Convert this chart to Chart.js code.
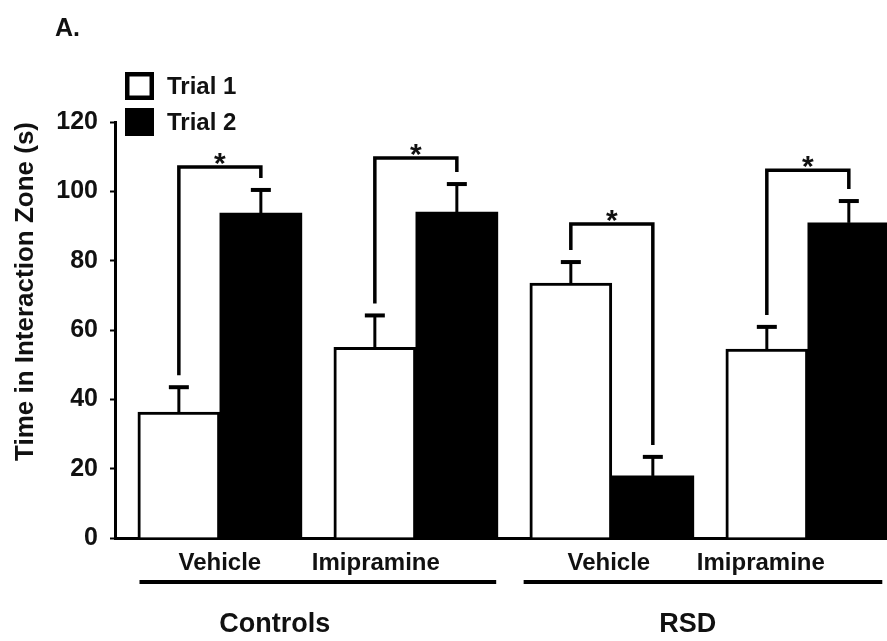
<!DOCTYPE html>
<html>
<head>
<meta charset="utf-8">
<script src="https://cdn.jsdelivr.net/npm/chart.js@4.4.1/dist/chart.umd.min.js"></script>
<style>
  html, body { margin: 0; padding: 0; background: #fff; overflow: hidden; }
  canvas { display: block; }
</style>
</head>
<body>
<canvas id="chart" width="887" height="641"></canvas>
<script>
// data
const treatments = ['Vehicle', 'Imipramine', 'Vehicle', 'Imipramine'];
const conditions = ['Controls', 'RSD'];
const trial1 = [36.3, 55, 73.5, 54.5];
const trial2 = [93.7, 94, 17.9, 90.9];
const trial1Err = [7.2, 9.2, 6.1, 6.4];
const trial2Err = [6.7, 8.1, 5.5, 6.3];
const bracketTops = [107, 109.6, 90.6, 106.1];
const yTicks = [0, 20, 40, 60, 80, 100, 120];

const FONT = "'Liberation Sans', Arial, sans-serif";
const INK = '#111';

// where things sit, in x-scale units
const labelShift = [0, -40, -3, -47];          // px, treatment labels
const conditionSpans = [[-0.41, 1.41], [1.55, 3.38]];
const conditionLabelX = [0.28, 2.387];

const extras = {
    id: 'extras',
    afterDatasetsDraw(chart) {
        const ctx = chart.ctx;
        const y = chart.scales.y;
        const m1 = chart.getDatasetMeta(0);
        const m2 = chart.getDatasetMeta(1);
        ctx.save();
        ctx.strokeStyle = '#000';
        ctx.lineCap = 'butt';

        // error bars (upper only)
        [[m1, trial1, trial1Err], [m2, trial2, trial2Err]].forEach(([meta, vals, errs]) => {
            meta.data.forEach((bar, i) => {
                const top = y.getPixelForValue(vals[i]);
                const cap = y.getPixelForValue(vals[i] + errs[i]);
                ctx.lineWidth = 3;
                ctx.beginPath();
                ctx.moveTo(bar.x, top);
                ctx.lineTo(bar.x, cap);
                ctx.stroke();
                ctx.lineWidth = 4;
                ctx.beginPath();
                ctx.moveTo(bar.x - 10, cap);
                ctx.lineTo(bar.x + 10, cap);
                ctx.stroke();
            });
        });

        // significance brackets
        ctx.lineWidth = 3.5;
        ctx.lineJoin = 'miter';
        bracketTops.forEach((b, i) => {
            const x1 = m1.data[i].x, x2 = m2.data[i].x;
            const yb = y.getPixelForValue(b);
            const y1 = y.getPixelForValue(trial1[i] + trial1Err[i]) - 12;
            const y2 = y.getPixelForValue(trial2[i] + trial2Err[i]) - 12;
            ctx.beginPath();
            ctx.moveTo(x1, y1);
            ctx.lineTo(x1, yb);
            ctx.lineTo(x2, yb);
            ctx.lineTo(x2, y2);
            ctx.stroke();
            ctx.fillStyle = INK;
            ctx.font = 'bold 30px ' + FONT;
            ctx.textAlign = 'center';
            ctx.textBaseline = 'alphabetic';
            ctx.fillText('*', (x1 + x2) / 2, yb + 6);
        });
        ctx.restore();
    },
    afterDraw(chart) {
        const ctx = chart.ctx;
        const x = chart.scales.x;
        ctx.save();
        ctx.fillStyle = INK;

        // panel letter
        ctx.font = 'bold 25px ' + FONT;
        ctx.textAlign = 'left';
        ctx.textBaseline = 'alphabetic';
        ctx.fillText('A.', 55, 36);

        // legend
        const sets = chart.data.datasets;
        sets.forEach((ds, i) => {
            const top = 72 + i * 36;
            ctx.fillStyle = ds.backgroundColor;
            ctx.fillRect(125, top, 29, 28);
            ctx.strokeStyle = '#000';
            ctx.lineWidth = 4.5;
            ctx.strokeRect(127.25, top + 2.25, 24.5, 23.5);
            ctx.fillStyle = INK;
            ctx.font = 'bold 24px ' + FONT;
            ctx.textBaseline = 'middle';
            ctx.fillText(ds.label, 167, top + 15);
        });

        // treatment labels
        ctx.font = 'bold 24px ' + FONT;
        ctx.textAlign = 'center';
        ctx.textBaseline = 'alphabetic';
        treatments.forEach((t, i) => {
            ctx.fillText(t, x.getPixelForValue(i) + labelShift[i], 570);
        });

        // condition underlines and labels
        ctx.strokeStyle = '#000';
        ctx.lineWidth = 4;
        conditionSpans.forEach(([a, b], i) => {
            ctx.beginPath();
            ctx.moveTo(x.getPixelForValue(a), 582);
            ctx.lineTo(x.getPixelForValue(b), 582);
            ctx.stroke();
            ctx.font = 'bold 27px ' + FONT;
            ctx.fillText(conditions[i], x.getPixelForValue(conditionLabelX[i]), 632);
        });
        ctx.restore();
    }
};

new Chart(document.getElementById('chart'), {
    type: 'bar',
    data: {
        datasets: [{
            label: 'Trial 1',
            data: trial1.map((v, i) => ({ x: i, y: v })),
            backgroundColor: '#fff',
            borderColor: '#000',
            borderWidth: 3
        }, {
            label: 'Trial 2',
            data: trial2.map((v, i) => ({ x: i, y: v })),
            backgroundColor: '#000',
            borderColor: '#000',
            borderWidth: 0
        }]
    },
    options: {
        responsive: false,
        animation: false,
        devicePixelRatio: 1,
        barThickness: 82,
        layout: { padding: { top: 122, left: 0, right: 0, bottom: 0 } },
        plugins: {
            legend: { display: false },
            tooltip: { enabled: false }
        },
        scales: {
            x: {
                type: 'linear',
                offset: false,
                min: -0.535,
                max: 3.404,
                grid: { display: false },
                ticks: { display: false },
                border: { display: true, color: '#000', width: 3 },
                afterFit(scale) { scale.height = 103; }
            },
            y: {
                min: 0,
                max: 120,
                afterBuildTicks(scale) { scale.ticks = yTicks.map(v => ({ value: v })); },
                grid: { drawOnChartArea: false, drawTicks: true, tickLength: 5, tickColor: '#000', tickWidth: 2 },
                border: { display: true, color: '#000', width: 3 },
                ticks: {
                    color: INK,
                    padding: 12,
                    font: { family: FONT, size: 25, weight: 'bold' }
                },
                title: {
                    display: true,
                    text: 'Time in Interaction Zone (s)',
                    align: 'end',
                    color: INK,
                    padding: { top: 10, bottom: 0 },
                    font: { family: FONT, size: 26, weight: 'bold' }
                },
                afterFit(scale) { scale.width = 115; }
            }
        }
    },
    plugins: [extras]
});
</script>
</body>
</html>
